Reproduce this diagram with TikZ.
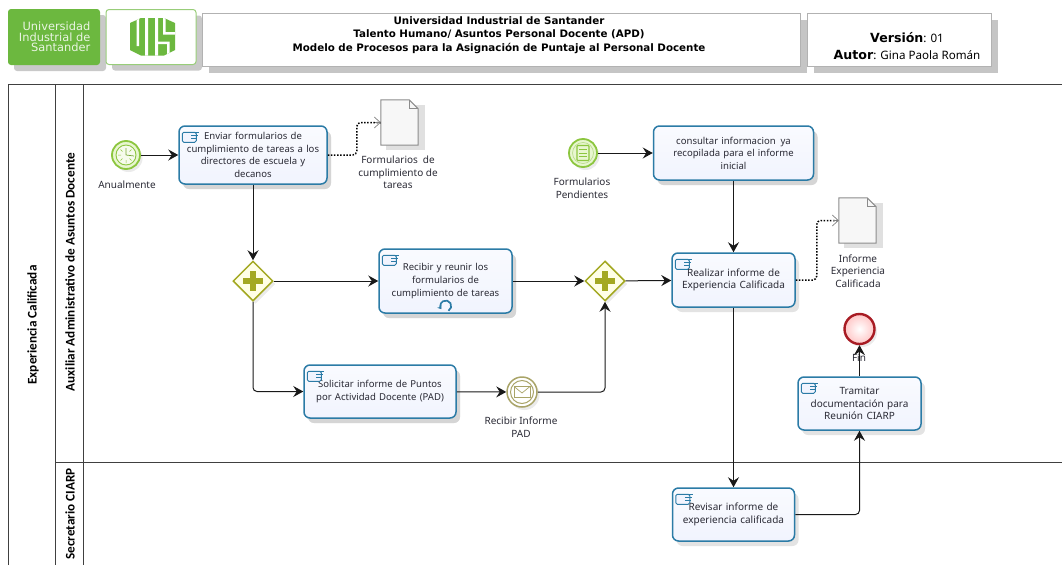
\documentclass[tikz,border=0pt]{standalone}
\usepackage{fontspec}
\setmainfont{Noto Sans}
\newfontfamily\wide{DejaVu Sans}
\newfontfamily\lanefont{Carlito}
\usetikzlibrary{shapes.geometric,arrows.meta,shadows,calc}
\definecolor{taskline}{HTML}{2B7BA6}
\definecolor{taskfill}{HTML}{F1F4FE}
\definecolor{uisgreen}{HTML}{6CB83F}
\definecolor{evgreen}{HTML}{8CC63F}
\definecolor{evfill}{HTML}{E8F6D0}
\definecolor{gateline}{HTML}{A3A822}
\definecolor{gatefill}{HTML}{FFFFE6}
\definecolor{msgline}{HTML}{A9A468}
\definecolor{txt}{HTML}{2A2A35}
\definecolor{endred}{HTML}{A81C24}
\newcommand{\taskicon}[1]{%
  \draw[taskline,fill=taskfill,line width=1pt,rounded corners=1.5pt]
    ($(#1.north west)+(4,7)$) rectangle ++(14,10);
  \draw[taskline,line width=1pt]
    ($(#1.north west)+(11,7)$) -- ++(10,0)
    ($(#1.north west)+(13,10)$) -- ++(7,0)
    ($(#1.north west)+(13,13)$) -- ++(6,0);}
\newcommand{\plusmark}[1]{%
  \draw[gateline,line width=5.5pt] ($(#1.center)+(-10,0)$) -- ($(#1.center)+(10,0)$)
    ($(#1.center)+(0,-10)$) -- ($(#1.center)+(0,10)$);}
\newcommand{\docmark}[1]{%
  \draw[black!45,fill=black!3,line width=1pt]
    (#1.north west) -- ($(#1.north east)+(-9,0)$) -- ($(#1.north east)+(0,9)$)
    -- (#1.south east) -- (#1.south west) -- cycle;
  \draw[black!45,line width=.7pt] ($(#1.north east)+(-9,0)$) -- ($(#1.north east)+(-9,9)$) -- ($(#1.north east)+(0,9)$);}
\tikzset{x=1pt,y=-1pt,
  softshadow/.style={drop shadow={shadow xshift=4pt,shadow yshift=-5pt,fill=black!22,opacity=.5}},
  smallshadow/.style={drop shadow={shadow xshift=2.5pt,shadow yshift=-3pt,fill=black!20,opacity=.4}},
  headbox/.style={draw=black!30,fill=white,line width=.8pt,drop shadow={shadow xshift=7pt,shadow yshift=-7pt,fill=black!32,opacity=.7},inner sep=0pt,align=center},
  taskbox/.style={draw=taskline,line width=1.5pt,rounded corners=6pt,top color=white!60!taskfill,bottom color=taskfill,softshadow,inner sep=1pt,align=center,font=\fontsize{10}{12.6}\selectfont,text=txt},
  tightbox/.style={taskbox,font=\fontsize{9.55}{12.6}\selectfont},
  gatebox/.style={diamond,aspect=1,draw=gateline,fill=gatefill,line width=1.5pt,minimum width=40pt,minimum height=40pt,inner sep=0pt,smallshadow},
  startev/.style={circle,draw=evgreen,fill=evfill,line width=1.8pt,minimum size=28pt,inner sep=0pt,smallshadow},
  msgev/.style={circle,draw=msgline,fill=white,line width=1.5pt,minimum size=30pt,inner sep=0pt,smallshadow},
  endev/.style={circle,draw=endred,line width=2.4pt,inner color=white,outer color=red!22,minimum size=30pt,inner sep=0pt,smallshadow},
  docbox/.style={minimum width=37pt,minimum height=45pt,inner sep=0pt},
  lab/.style={align=center,font=\fontsize{10}{12.6}\selectfont,text=txt,inner sep=0pt},
  lanelab/.style={rotate=90,font=\lanefont\bfseries\fontsize{13.2}{14}\selectfont,inner sep=0pt},
  flow/.style={draw=black!90,line width=1pt,rounded corners=4pt,-{Stealth[length=10pt,width=11pt,inset=3.5pt]}},
  assoc/.style={draw=black,line width=1.5pt,dash pattern=on 1.5pt off 1.6pt,rounded corners=4pt},
  assochead/.style={-{Straight Barb[length=6pt,width=11pt,color=black!50,line width=.7pt]}},
  poolline/.style={draw=black!75,line width=1pt}
}
\begin{document}
\begin{tikzpicture}
\useasboundingbox (0,0) rectangle (1062,565);
% header
\node[draw=none,fill=uisgreen,rounded corners=3pt,minimum width=92pt,minimum height=56pt,inner sep=0pt,drop shadow={shadow xshift=6pt,shadow yshift=-6pt,fill=black!30,opacity=.7}] (logoA) at (54,37) {};
\node[draw=uisgreen!70,line width=1pt,fill=white,rounded corners=3pt,minimum width=90pt,minimum height=55pt,inner sep=0pt,drop shadow={shadow xshift=6pt,shadow yshift=-6pt,fill=black!30,opacity=.7}] (logoB) at (151,37) {};
\node[anchor=east,align=right,text=white!85!uisgreen,inner sep=0pt,font=\wide\fontsize{11.4}{10.6}\selectfont] (logoT) at (90.5,37) {Universidad\\Industrial de\\Santander};
\begin{scope}
\clip (141,18) -- (164,18) -- (175,23) -- (175,50) -- (164,55.5) -- (141,55.5) -- (130,50) -- (130,23) -- cycle;
\fill[uisgreen] (125,15) rectangle (178,58);
\fill[white] (136.5,15) rectangle (139,46) (145,15) rectangle (148,58) (155,15) rectangle (158,58);
\fill[white] (163,15) rectangle (165.5,34) (163,32) rectangle (178,34.5);
\fill[white] (158,41.5) rectangle (169,44) (167,41.5) rectangle (169.5,58);
\end{scope}
\node[headbox,minimum width=598pt,minimum height=53pt] (title) at (501,39.5) {};
\node[align=center,inner sep=0pt,font=\wide\bfseries\fontsize{10.3}{13.5}\selectfont,text=black] (titleT) at (499,35) {Universidad Industrial de Santander\\Talento Humano/ Asuntos Personal Docente (APD)\\Modelo de Procesos para la Asignación de Puntaje al Personal Docente};
\node[headbox,minimum width=184pt,minimum height=53pt] (ver) at (899,39.5) {};
\node[align=center,inner sep=0pt,font=\fontsize{11.6}{16.2}\selectfont,text=black] (verT) at (907,46) {{\wide\bfseries\fontsize{12.6}{16.2}\selectfont Versión}: 01\\{\wide\bfseries\fontsize{12.6}{16.2}\selectfont Autor}: Gina Paola Román};
% pool
\coordinate (pTL) at (8,84);
\coordinate (pTR) at (1062,84);
\coordinate (pBL) at (8,565);
\coordinate (l1T) at (55,84);
\coordinate (l1B) at (55,565);
\coordinate (l2T) at (83,84);
\coordinate (l2B) at (83,565);
\coordinate (hL) at (55,462);
\coordinate (hR) at (1062,462);
\draw[poolline] (pBL) -- (pTL) -- (pTR);
\draw[poolline] (l1T) -- (l1B);
\draw[poolline] (l2T) -- (l2B);
\draw[poolline] (hL) -- (hR);
\node[lanelab] (lanePool) at (33,325) {Experiencia Calificada};
\node[lanelab] (laneA) at (70,272) {Auxiliar Administrativo de Asuntos Docente};
\node[lanelab] (laneB) at (70,514) {Secretario CIARP};
% nodes
\node[startev] (st1) at (126,155) {};
\draw[evgreen,fill=white!60!evfill,line width=.9pt] (st1) circle (10pt);
\draw[evgreen!85!black,line width=.7pt] (st1.center) -- ++(0,-7) (st1.center) -- ++(8,1);
\draw[evgreen,line width=.5pt] ($(st1.center)+(-8,0)$) -- ++(3,0) ($(st1.center)+(0,8)$) -- ++(0,-3) ($(st1.center)+(-5.5,-5.5)$) -- ++(2,2) ($(st1.center)+(-5.5,5.5)$) -- ++(2,-2) ($(st1.center)+(5.5,5.5)$) -- ++(-2,-2) ($(st1.center)+(5.5,-5.5)$) -- ++(-2,2);
\node[lab,anchor=center] (st1L) at (127,185) {Anualmente};
\node[taskbox,tightbox,minimum width=148pt,minimum height=58pt,text width=142pt] (t1) at (253,155) {Enviar formularios de\\cumplimiento de tareas a los\\directores de escuela y\\decanos};
\node[docbox] (d1) at (399.5,122.5) {};
\fill[black!12] ($(d1.north west)+(5,5)$) rectangle ($(d1.south east)+(7,5)$);
\docmark{d1}
\node[lab] (d1L) at (398,172.5) {Formularios\enspace de\\cumplimiento de\\tareas};
\node[gatebox] (g1) at (253,281) {};
\plusmark{g1}
\node[taskbox,tightbox,minimum width=133pt,minimum height=64pt,text width=128pt] (t2) at (445.5,281) {Recibir y reunir los\\formularios de\\cumplimiento de tareas\\[14pt]};
\node[gatebox] (g2) at (605,281) {};
\plusmark{g2}
\node[taskbox,tightbox,minimum width=152pt,minimum height=53pt,text width=146pt] (t3) at (380,391.5) {Solicitar informe de Puntos\\por Actividad Docente (PAD)};
\node[msgev] (m1) at (522,392) {};
\draw[msgline,line width=1pt] (m1) circle (11.5pt);
\draw[msgline,fill=white,line width=.7pt] ($(m1.center)+(-8,-5.5)$) rectangle ($(m1.center)+(8,5.5)$);
\draw[msgline,line width=.7pt] ($(m1.center)+(-8,-5.5)$) -- ($(m1.center)+(0,1)$) -- ($(m1.center)+(8,-5.5)$);
\node[lab] (m1L) at (521,427) {Recibir Informe\\PAD};
\node[startev] (st2) at (583,153) {};
\draw[evgreen!60,line width=.7pt] (st2) circle (10.5pt);
\draw[evgreen,fill=evfill,line width=1.1pt,rounded corners=.8pt] ($(st2.center)+(-6,-7.5)$) rectangle ($(st2.center)+(6,7.5)$);
\draw[evgreen,line width=.9pt] ($(st2.center)+(-4,-3.5)$) -- ++(8,0) ($(st2.center)+(-4,0)$) -- ++(8,0) ($(st2.center)+(-4,3.5)$) -- ++(8,0);
\node[lab] (st2L) at (582,188) {Formularios\\Pendientes};
\node[taskbox,tightbox,minimum width=160pt,minimum height=54pt,text width=150pt] (t4) at (733.5,153) {consultar informacion\enspace ya\\recopilada para el informe\\inicial};
\node[taskbox,minimum width=123pt,minimum height=54pt,text width=118pt] (t5) at (733.5,280) {Realizar informe de\\Experiencia Calificada};
\node[docbox] (d2) at (857.5,220.5) {};
\fill[black!12] ($(d2.north west)+(5,5)$) rectangle ($(d2.south east)+(7,5)$);
\docmark{d2}
\node[lab] (d2L) at (858,271) {Informe\\Experiencia\\Calificada};
\node[endev] (e1) at (859.5,329) {};
\node[lab,fill=none] (e1L) at (859,358) {Fin};
\node[taskbox,minimum width=123pt,minimum height=53pt,text width=118pt] (t6) at (859.5,403.5) {Tramitar\\documentación para\\Reunión CIARP};
\node[taskbox,minimum width=122pt,minimum height=53pt,text width=116pt] (t7) at (733.5,514.5) {Revisar informe de\\experiencia calificada};
\taskicon{t1}\taskicon{t2}\taskicon{t3}\taskicon{t5}\taskicon{t6}\taskicon{t7}
\draw[taskline,line width=1.7pt,-{Stealth[length=3.5pt,width=5pt]}] ($(t2.south)+(3,-3)$) arc[start angle=-60,end angle=215,radius=5.5pt];
% connectors
\path[flow] (st1) -- (t1);
\path[flow] (t1) -- (g1);
\path[flow] (g1) -- (t2);
\path[flow] (t2) -- (g2);
\path[flow] (g2) -- (t5);
\path[flow] (g1.south) |- (t3.west);
\path[flow] (t3) -- (m1);
\path[flow] (m1.east) -| (g2.south);
\path[flow] (st2) -- (t4);
\path[flow] (t4) -- (t5);
\path[flow] (t5) -- (t7);
\path[flow] (t7.east) -| (t6.south);
\path[flow] (t6) -- (e1);
\path[assoc] (t1.east) -- ++(29,0) |- (d1.west);
\path[assoc] (t5.east) -- ++(21,0) |- (d2.west);
\draw[assochead,draw=black!50,line width=.7pt] ($(d1.west)+(-6,0)$) -- (d1.west);
\draw[assochead,draw=black!50,line width=.7pt] ($(d2.west)+(-6,0)$) -- (d2.west);
\end{tikzpicture}
\end{document}
